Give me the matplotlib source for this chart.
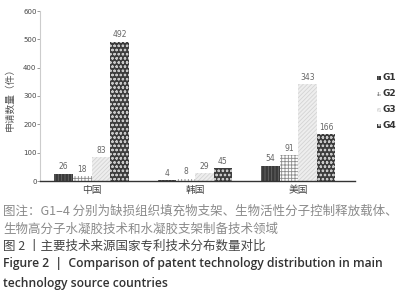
#!/usr/bin/env python3

import numpy as np
import matplotlib
matplotlib.use("Agg")
import matplotlib.pyplot as plt
from matplotlib.patches import Rectangle

plt.rcParams['font.family'] = ['Noto Sans CJK SC', 'DejaVu Sans']
plt.rcParams['hatch.linewidth'] = 0.6

# data
countries = ["中国", "韩国", "美国"]
series = ["G1", "G2", "G3", "G4"]
g1 = [26, 4, 54]
g2 = [18, 8, 91]
g3 = [83, 29, 343]
g4 = [492, 45, 166]
yticks = [0, 100, 200, 300, 400, 500, 600]

# bar looks: face, hatch, hatch colour
styles = [
    ("#3a3a3a", "|||||", "#6a6a6a"),
    ("#ffffff", "+++++", "#8c8c8c"),
    ("#eeeeee", "////////", "#d4d4d4"),
    ("#3c3c3c", "oooo", "#c8c8c8"),
]

fig = plt.figure(figsize=(4.06, 3.0), dpi=100)
ax = fig.add_axes([40 / 406, 1 - 181 / 300, 315 / 406, 170 / 300])

x = np.arange(len(countries))
width = 0.18
values = [g1, g2, g3, g4]

for i, vals in enumerate(values):
    face, hatch, hcol = styles[i]
    pos = x + (i - 1.5) * width
    ax.bar(pos, vals, width, color=face, hatch=hatch, edgecolor=hcol, linewidth=0)
    for p, v in zip(pos, vals):
        ax.text(p, v + 8, str(v), ha="center", va="bottom", fontsize=5.5,
                color="#666666", family=["DejaVu Sans"])

ax.set_xlim(-0.5, 2.55)
ax.set_ylim(0, 600)
ax.set_yticks(yticks)
ax.set_yticklabels([str(t) for t in yticks], fontsize=5, color="#444444",
                   family=["DejaVu Sans"])
ax.tick_params(axis="y", length=2, width=0.6, color="#888888", pad=0.5)
ax.set_xticks(x)
ax.set_xticklabels(countries, fontsize=7, color="#444444")
ax.tick_params(axis="x", length=0, pad=3)

ax.spines["top"].set_visible(False)
ax.spines["right"].set_visible(False)
ax.spines["left"].set_color("#cccccc")
ax.spines["left"].set_linewidth(0.8)
ax.spines["bottom"].set_color("#333333")
ax.spines["bottom"].set_linewidth(1.0)

fig.text(10 / 406, 1 - 97 / 300, "申请数量（件）", rotation=90, ha="center",
         va="center", fontsize=7, color="#555555")

# legend drawn by hand on the right
for i, name in enumerate(series):
    face, hatch, hcol = styles[i]
    yc = 1 - (78 + i * 16) / 300
    fig.patches.append(Rectangle((377 / 406, yc - 2 / 300), 4 / 406, 4 / 300,
                                 transform=fig.transFigure, facecolor=face,
                                 hatch=hatch, edgecolor=hcol, linewidth=0))
    fig.text(383 / 406, yc, name, ha="left", va="center", fontsize=6.5,
             color="#333333", weight="bold", family=["DejaVu Sans"])

# captions below the chart
fig.text(3 / 406, 1 - 211 / 300, "图注：G1–4 分别为缺损组织填充物支架、生物活性分子控制释放载体、",
         ha="left", va="center", fontsize=9.0, color="#8a8a8a")
fig.text(3 / 406, 1 - 229 / 300, "生物高分子水凝胶技术和水凝胶支架制备技术领域",
         ha="left", va="center", fontsize=9.0, color="#8a8a8a")
fig.text(3 / 406, 1 - 246 / 300, "图 2 丨主要技术来源国家专利技术分布数量对比",
         ha="left", va="center", fontsize=9.0, color="#444444")
fig.text(3 / 406, 1 - 264 / 300, "Figure 2  |  Comparison of patent technology distribution in main",
         ha="left", va="center", fontsize=8.7, color="#333333", weight="semibold",
         family=["Open Sans"])
fig.text(3 / 406, 1 - 283 / 300, "technology source countries",
         ha="left", va="center", fontsize=8.7, color="#333333", weight="semibold",
         family=["Open Sans"])

fig.savefig("out.png", dpi=100)
